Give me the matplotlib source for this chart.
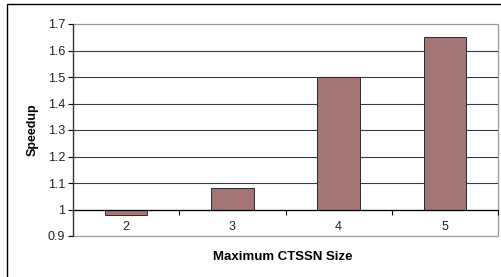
import matplotlib
matplotlib.use("Agg")
import matplotlib.pyplot as plt
from matplotlib.patches import Rectangle

# data
sizes = ["2", "3", "4", "5"]
speedup = [0.98, 1.08, 1.50, 1.65]
yticks = [0.9, 1.0, 1.1, 1.2, 1.3, 1.4, 1.5, 1.6, 1.7]
ytick_labels = ["0.9", "1", "1.1", "1.2", "1.3", "1.4", "1.5", "1.6", "1.7"]

plt.rcParams["font.family"] = ["Liberation Sans", "DejaVu Sans"]

fig = plt.figure(figsize=(5.02, 2.77), dpi=100)
ax = fig.add_axes([73 / 502, 1 - 236 / 277, 425 / 502, 212 / 277])

# outer chart border (cut off at right/bottom like the reference)
fig.patches.append(Rectangle((7 / 502, -0.1), 1.1, 1 - 4.5 / 277 + 0.1,
                             transform=fig.transFigure, fill=False,
                             edgecolor="black", linewidth=1.0))

x = list(range(len(sizes)))
heights = [v - 1.0 for v in speedup]
ax.bar(x, heights, bottom=1.0, width=0.4, color="#A57474",
       edgecolor="#2a2a2a", linewidth=0.7, zorder=3)

ax.set_xlim(-0.5, len(sizes) - 0.5)
ax.set_ylim(0.9, 1.7)
ax.set_yticks(yticks)
ax.set_yticklabels(ytick_labels)

# gridlines
for y in yticks[1:-1]:
    ax.axhline(y, color="#3a3a3a", linewidth=0.8, zorder=1)

# category axis crosses at 1
for s in ["top", "right"]:
    ax.spines[s].set_visible(False)
ax.spines["bottom"].set_position(("data", 1.0))
ax.spines["bottom"].set_color("black")
ax.spines["bottom"].set_linewidth(0.9)
ax.spines["bottom"].set_zorder(4)
ax.spines["left"].set_color("#303030")
ax.spines["left"].set_linewidth(0.9)

ax.set_xticks([i + 0.5 for i in x[:-1]] + [-0.5, len(sizes) - 0.5])
ax.set_xticklabels([])
ax.set_xticks(x, minor=True)
ax.set_xticklabels(sizes, minor=True)
ax.tick_params(axis="x", which="major", direction="out", length=3.5,
               width=0.8, color="black")
ax.tick_params(axis="x", which="minor", length=0, pad=8, labelsize=9,
               labelcolor="#222222")
ax.tick_params(axis="y", direction="out", length=3.5, width=0.8,
               pad=2, labelsize=9, labelcolor="#222222")

# grey plot-area border
ax.add_patch(Rectangle((0, 0), 1, 1, transform=ax.transAxes, fill=False,
                       edgecolor="#9a9a9a", linewidth=0.9, clip_on=False,
                       zorder=0))

ax.set_ylabel("Speedup", fontsize=9, fontweight="bold", labelpad=7)
fig.text(283 / 502, 1 - 257 / 277, "Maximum CTSSN Size", ha="center",
         va="center", fontsize=9.5, fontweight="bold")

fig.savefig("out.png", dpi=100)
